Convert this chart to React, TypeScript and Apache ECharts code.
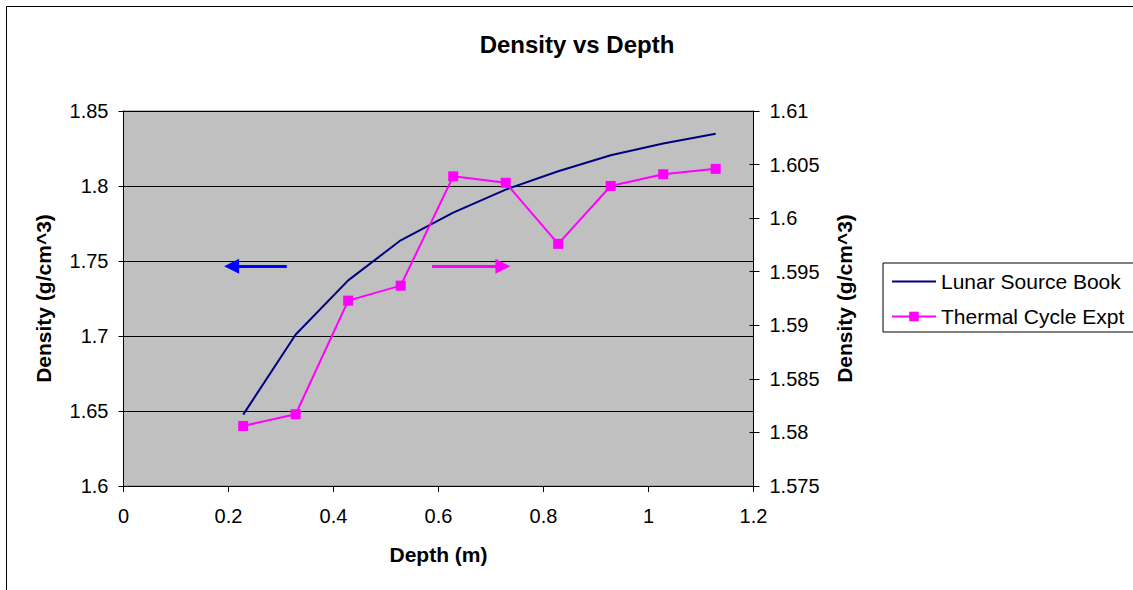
import React, { useEffect, useRef } from "react";
import * as echarts from "echarts";

const depth = [0.228, 0.328, 0.428, 0.528, 0.628, 0.728, 0.828, 0.928, 1.028, 1.128];
const lunarSourceBook = [1.6476, 1.701, 1.7371, 1.7638, 1.7823, 1.7976, 1.8098, 1.8205, 1.8283, 1.8349];
const thermalCycleExpt = [1.5806, 1.5817, 1.5923, 1.5937, 1.6039, 1.6033, 1.5976, 1.603, 1.6041, 1.6046];

// annotation arrows (data coordinates): [x from, x to (head centre), y]
const leftArrow = [0.311, 0.206, 1.7465];
const rightArrow = [0.5876, 0.7227, 1.5955];

const FONT = "'Liberation Sans', Arial, sans-serif";

export default function App() {
  const ref = useRef<HTMLDivElement>(null);
  useEffect(() => {
    if (!ref.current) return;
    const chart = echarts.init(ref.current, null, { renderer: "svg" });
    const textBase = { fontFamily: FONT, color: "#000" };
    const innerTickAxis = (min: number, max: number, interval: number, position: string) => ({
      type: "value",
      position,
      min,
      max,
      interval,
      axisLine: { show: false },
      axisTick: { show: true, inside: true, length: 4, lineStyle: { color: "#000" } },
      axisLabel: { show: false },
      splitLine: { show: false },
    });
    chart.setOption({
      animation: false,
      backgroundColor: "#fff",
      title: {
        text: "Density vs Depth",
        left: 572,
        top: 27,
        textAlign: "center",
        textStyle: { ...textBase, fontSize: 24, fontWeight: "bold" },
      },
      graphic: [
        {
          type: "rect",
          shape: { x: 6.5, y: 6.5, width: 1200, height: 700 },
          style: { fill: "transparent", stroke: "#000", lineWidth: 1 },
          silent: true,
        },
      ],
      legend: {
        orient: "vertical",
        left: 883,
        top: 263,
        padding: [8, 10, 5, 8],
        itemWidth: 44,
        itemHeight: 12,
        itemGap: 14,
        borderColor: "#000",
        borderWidth: 1,
        textStyle: { ...textBase, fontSize: 21 },
        data: [
          { name: "Lunar Source Book", itemStyle: { opacity: 0 } },
          { name: "Thermal Cycle Expt" },
        ],
      },
      grid: {
        left: 123.5,
        top: 111,
        width: 630,
        height: 375,
        show: true,
        backgroundColor: "#C0C0C0",
        borderColor: "#808080",
        borderWidth: 1,
      },
      xAxis: {
        type: "value",
        min: 0,
        max: 1.2,
        interval: 0.2,
        name: "Depth (m)",
        nameLocation: "middle",
        nameGap: 58,
        nameTextStyle: { ...textBase, fontSize: 21, fontWeight: "bold" },
        axisLine: { show: true, lineStyle: { color: "#000", width: 1 } },
        axisTick: { show: true, length: 6, lineStyle: { color: "#000" } },
        splitLine: { show: false },
        axisLabel: {
          ...textBase,
          fontSize: 20,
          margin: 20,
          formatter: (v: number) => String(+v.toFixed(1)),
        },
      },
      yAxis: [
        {
          type: "value",
          position: "left",
          min: 1.6,
          max: 1.85,
          interval: 0.05,
          name: "Density (g/cm^3)",
          nameLocation: "middle",
          nameGap: 70,
          nameTextStyle: { ...textBase, fontSize: 21, fontWeight: "bold" },
          axisLine: { show: true, lineStyle: { color: "#000", width: 1 } },
          axisTick: { show: true, length: 5, lineStyle: { color: "#000" } },
          splitLine: { show: true, lineStyle: { color: "#000", width: 1 } },
          axisLabel: {
            ...textBase,
            fontSize: 20,
            margin: 15,
            formatter: (v: number) => String(+v.toFixed(2)),
          },
        },
        {
          type: "value",
          position: "right",
          min: 1.575,
          max: 1.61,
          interval: 0.005,
          name: "Density (g/cm^3)",
          nameLocation: "middle",
          nameGap: 80,
          nameTextStyle: { ...textBase, fontSize: 21, fontWeight: "bold" },
          axisLine: { show: true, lineStyle: { color: "#000", width: 1 } },
          axisTick: { show: true, length: 6, lineStyle: { color: "#000" } },
          splitLine: { show: false },
          axisLabel: {
            ...textBase,
            fontSize: 20,
            margin: 16,
            formatter: (v: number) => String(+v.toFixed(3)),
          },
        },
        innerTickAxis(1.6, 1.85, 0.05, "left"),
        innerTickAxis(1.575, 1.61, 0.005, "right"),
      ],
      series: [
        {
          name: "Lunar Source Book",
          type: "line",
          yAxisIndex: 0,
          data: depth.map((d, i) => [d, lunarSourceBook[i]]),
          symbol: "none",
          lineStyle: { color: "#000080", width: 2 },
          itemStyle: { color: "#000080" },
          markLine: {
            silent: true,
            symbol: ["none", "triangle"],
            symbolSize: [15, 15],
            label: { show: false },
            lineStyle: { color: "#0000FF", width: 3, type: "solid" },
            emphasis: { disabled: true },
            data: [
              [
                { coord: [leftArrow[0], leftArrow[2]] },
                { coord: [leftArrow[1], leftArrow[2]] },
              ],
            ],
          },
        },
        {
          name: "Thermal Cycle Expt",
          type: "line",
          yAxisIndex: 1,
          data: depth.map((d, i) => [d, thermalCycleExpt[i]]),
          symbol: "rect",
          symbolSize: 10,
          lineStyle: { color: "#FF00FF", width: 2 },
          itemStyle: { color: "#FF00FF" },
          markLine: {
            silent: true,
            symbol: ["none", "triangle"],
            symbolSize: [15, 15],
            label: { show: false },
            lineStyle: { color: "#FF00FF", width: 3, type: "solid" },
            emphasis: { disabled: true },
            data: [
              [
                { coord: [rightArrow[0], rightArrow[2]] },
                { coord: [rightArrow[1], rightArrow[2]] },
              ],
            ],
          },
        },
      ],
    });
    return () => chart.dispose();
  }, []);
  return (
    <div
      ref={ref}
      style={{ position: "fixed", left: 0, top: 0, width: 1133, height: 590 }}
    />
  );
}
